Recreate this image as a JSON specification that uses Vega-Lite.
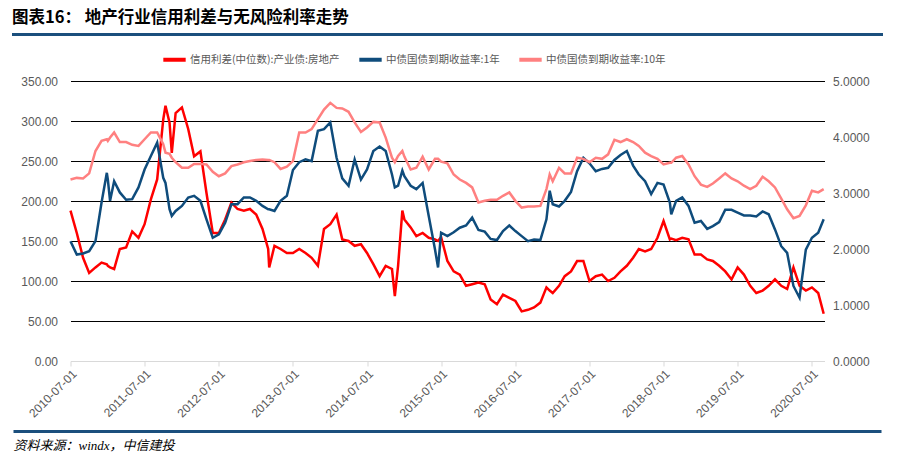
{
  "$schema": "https://vega.github.io/schema/vega-lite/v6.json",
  "background": "white",
  "padding": {"left": 12, "top": 9, "right": 5, "bottom": 2},
  "config": {"view": {"stroke": null}, "font": "Liberation Sans"},
  "spacing": 0,
  "bounds": "flush",
  "center": true,
  "datasets": {
    "main": [
      {"date":"2010-07-01","spread":188,"y1":2.14,"y10":3.24},
      {"date":"2010-08-01","spread":160,"y1":1.90,"y10":3.27},
      {"date":"2010-09-01","spread":129,"y1":1.92,"y10":3.26},
      {"date":"2010-10-01","spread":110,"y1":1.96,"y10":3.35},
      {"date":"2010-11-01","spread":117,"y1":2.14,"y10":3.75},
      {"date":"2010-12-01","spread":123,"y1":2.83,"y10":3.93},
      {"date":"2010-12-27","spread":121,"y1":3.36,"y10":3.96},
      {"date":"2011-01-01","spread":119,"y1":3.24,"y10":3.93},
      {"date":"2011-01-12","spread":117,"y1":2.86,"y10":3.99},
      {"date":"2011-02-01","spread":115,"y1":3.21,"y10":4.08},
      {"date":"2011-03-01","spread":140,"y1":3.01,"y10":3.91},
      {"date":"2011-04-01","spread":142,"y1":2.88,"y10":3.91},
      {"date":"2011-05-01","spread":162,"y1":2.89,"y10":3.86},
      {"date":"2011-06-01","spread":154,"y1":3.10,"y10":3.84},
      {"date":"2011-07-01","spread":171,"y1":3.42,"y10":3.96},
      {"date":"2011-08-01","spread":202,"y1":3.66,"y10":4.08},
      {"date":"2011-09-01","spread":227,"y1":3.90,"y10":4.08},
      {"date":"2011-10-01","spread":302,"y1":3.27,"y10":3.87},
      {"date":"2011-10-12","spread":319,"y1":3.18,"y10":3.72},
      {"date":"2011-11-01","spread":298,"y1":2.71,"y10":3.70},
      {"date":"2011-11-12","spread":260,"y1":2.59,"y10":3.63},
      {"date":"2011-12-01","spread":310,"y1":2.68,"y10":3.55},
      {"date":"2012-01-01","spread":317,"y1":2.77,"y10":3.45},
      {"date":"2012-02-01","spread":290,"y1":2.92,"y10":3.45},
      {"date":"2012-03-01","spread":256,"y1":2.95,"y10":3.52},
      {"date":"2012-04-01","spread":262,"y1":2.86,"y10":3.52},
      {"date":"2012-05-01","spread":210,"y1":2.53,"y10":3.51},
      {"date":"2012-06-01","spread":160,"y1":2.20,"y10":3.38},
      {"date":"2012-07-01","spread":160,"y1":2.26,"y10":3.30},
      {"date":"2012-08-01","spread":177,"y1":2.47,"y10":3.35},
      {"date":"2012-09-01","spread":198,"y1":2.80,"y10":3.48},
      {"date":"2012-10-01","spread":190,"y1":2.80,"y10":3.51},
      {"date":"2012-11-01","spread":188,"y1":2.92,"y10":3.55},
      {"date":"2012-12-01","spread":190,"y1":2.92,"y10":3.57},
      {"date":"2013-01-01","spread":183,"y1":2.86,"y10":3.59},
      {"date":"2013-02-01","spread":165,"y1":2.77,"y10":3.60},
      {"date":"2013-03-01","spread":140,"y1":2.71,"y10":3.59},
      {"date":"2013-03-06","spread":117,"y1":2.71,"y10":3.59},
      {"date":"2013-04-01","spread":144,"y1":2.68,"y10":3.55},
      {"date":"2013-05-01","spread":140,"y1":2.86,"y10":3.43},
      {"date":"2013-06-01","spread":135,"y1":2.95,"y10":3.47},
      {"date":"2013-07-01","spread":135,"y1":3.41,"y10":3.57},
      {"date":"2013-08-01","spread":140,"y1":3.55,"y10":4.08},
      {"date":"2013-09-01","spread":135,"y1":3.60,"y10":4.08},
      {"date":"2013-10-01","spread":129,"y1":3.57,"y10":4.14},
      {"date":"2013-11-01","spread":119,"y1":4.11,"y10":4.32},
      {"date":"2013-12-01","spread":165,"y1":4.14,"y10":4.49},
      {"date":"2014-01-01","spread":171,"y1":4.26,"y10":4.61},
      {"date":"2014-02-01","spread":183,"y1":3.63,"y10":4.52},
      {"date":"2014-03-01","spread":152,"y1":3.26,"y10":4.51},
      {"date":"2014-04-01","spread":150,"y1":3.13,"y10":4.45},
      {"date":"2014-05-01","spread":144,"y1":3.60,"y10":4.26},
      {"date":"2014-06-01","spread":146,"y1":3.24,"y10":4.09},
      {"date":"2014-07-01","spread":135,"y1":3.42,"y10":4.17},
      {"date":"2014-08-01","spread":121,"y1":3.75,"y10":4.27},
      {"date":"2014-09-01","spread":106,"y1":3.83,"y10":4.26},
      {"date":"2014-10-01","spread":119,"y1":3.75,"y10":3.99},
      {"date":"2014-11-01","spread":115,"y1":3.33,"y10":3.63},
      {"date":"2014-11-15","spread":81,"y1":3.10,"y10":3.55},
      {"date":"2014-12-01","spread":119,"y1":3.13,"y10":3.66},
      {"date":"2014-12-22","spread":188,"y1":3.40,"y10":3.75},
      {"date":"2015-01-01","spread":177,"y1":3.30,"y10":3.65},
      {"date":"2015-02-01","spread":167,"y1":3.13,"y10":3.42},
      {"date":"2015-03-01","spread":156,"y1":3.07,"y10":3.45},
      {"date":"2015-04-01","spread":160,"y1":3.18,"y10":3.65},
      {"date":"2015-05-01","spread":154,"y1":2.59,"y10":3.42},
      {"date":"2015-06-01","spread":152,"y1":1.99,"y10":3.61},
      {"date":"2015-06-16","spread":150,"y1":1.67,"y10":3.61},
      {"date":"2015-07-01","spread":155,"y1":2.29,"y10":3.56},
      {"date":"2015-08-01","spread":125,"y1":2.23,"y10":3.53},
      {"date":"2015-09-01","spread":112,"y1":2.30,"y10":3.33},
      {"date":"2015-10-01","spread":108,"y1":2.38,"y10":3.24},
      {"date":"2015-11-01","spread":94,"y1":2.42,"y10":3.18},
      {"date":"2015-12-01","spread":96,"y1":2.56,"y10":3.10},
      {"date":"2016-01-01","spread":98,"y1":2.34,"y10":2.83},
      {"date":"2016-02-01","spread":96,"y1":2.31,"y10":2.86},
      {"date":"2016-03-01","spread":77,"y1":2.18,"y10":2.88},
      {"date":"2016-04-01","spread":71,"y1":2.16,"y10":2.88},
      {"date":"2016-05-01","spread":83,"y1":2.32,"y10":2.95},
      {"date":"2016-06-01","spread":79,"y1":2.42,"y10":3.01},
      {"date":"2016-07-01","spread":75,"y1":2.32,"y10":2.86},
      {"date":"2016-08-01","spread":62,"y1":2.23,"y10":2.74},
      {"date":"2016-09-01","spread":64,"y1":2.14,"y10":2.76},
      {"date":"2016-10-01","spread":67,"y1":2.17,"y10":2.76},
      {"date":"2016-11-01","spread":73,"y1":2.16,"y10":2.77},
      {"date":"2016-12-01","spread":92,"y1":2.53,"y10":3.07},
      {"date":"2016-12-17","spread":88,"y1":3.04,"y10":3.33},
      {"date":"2017-01-01","spread":85,"y1":2.80,"y10":3.21},
      {"date":"2017-02-01","spread":94,"y1":2.76,"y10":3.45},
      {"date":"2017-03-01","spread":106,"y1":2.86,"y10":3.35},
      {"date":"2017-04-01","spread":112,"y1":3.02,"y10":3.35},
      {"date":"2017-05-01","spread":125,"y1":3.39,"y10":3.63},
      {"date":"2017-06-01","spread":125,"y1":3.63,"y10":3.61},
      {"date":"2017-07-01","spread":100,"y1":3.53,"y10":3.55},
      {"date":"2017-08-01","spread":106,"y1":3.39,"y10":3.63},
      {"date":"2017-09-01","spread":108,"y1":3.43,"y10":3.61},
      {"date":"2017-10-01","spread":100,"y1":3.45,"y10":3.69},
      {"date":"2017-11-01","spread":104,"y1":3.59,"y10":3.95},
      {"date":"2017-12-01","spread":112,"y1":3.68,"y10":3.91},
      {"date":"2018-01-01","spread":119,"y1":3.75,"y10":3.96},
      {"date":"2018-02-01","spread":129,"y1":3.49,"y10":3.91},
      {"date":"2018-03-01","spread":140,"y1":3.33,"y10":3.84},
      {"date":"2018-04-01","spread":137,"y1":3.21,"y10":3.72},
      {"date":"2018-05-01","spread":140,"y1":2.98,"y10":3.66},
      {"date":"2018-06-01","spread":154,"y1":3.18,"y10":3.61},
      {"date":"2018-07-01","spread":175,"y1":3.15,"y10":3.51},
      {"date":"2018-08-01","spread":152,"y1":2.83,"y10":3.54},
      {"date":"2018-08-08","spread":153,"y1":2.62,"y10":3.54},
      {"date":"2018-09-01","spread":151,"y1":2.86,"y10":3.63},
      {"date":"2018-10-01","spread":154,"y1":2.92,"y10":3.66},
      {"date":"2018-11-01","spread":152,"y1":2.77,"y10":3.51},
      {"date":"2018-12-01","spread":133,"y1":2.47,"y10":3.30},
      {"date":"2019-01-01","spread":133,"y1":2.50,"y10":3.15},
      {"date":"2019-02-01","spread":127,"y1":2.36,"y10":3.11},
      {"date":"2019-03-01","spread":125,"y1":2.41,"y10":3.17},
      {"date":"2019-04-01","spread":119,"y1":2.48,"y10":3.26},
      {"date":"2019-05-01","spread":112,"y1":2.70,"y10":3.35},
      {"date":"2019-06-01","spread":102,"y1":2.70,"y10":3.26},
      {"date":"2019-07-01","spread":117,"y1":2.65,"y10":3.21},
      {"date":"2019-08-01","spread":108,"y1":2.60,"y10":3.13},
      {"date":"2019-09-01","spread":94,"y1":2.60,"y10":3.07},
      {"date":"2019-10-01","spread":85,"y1":2.58,"y10":3.13},
      {"date":"2019-11-01","spread":88,"y1":2.67,"y10":3.29},
      {"date":"2019-12-01","spread":94,"y1":2.62,"y10":3.21},
      {"date":"2020-01-01","spread":102,"y1":2.35,"y10":3.10},
      {"date":"2020-02-01","spread":94,"y1":2.05,"y10":2.90},
      {"date":"2020-03-01","spread":90,"y1":1.93,"y10":2.71},
      {"date":"2020-04-01","spread":117,"y1":1.34,"y10":2.55},
      {"date":"2020-05-01","spread":94,"y1":1.13,"y10":2.59},
      {"date":"2020-06-01","spread":88,"y1":1.99,"y10":2.78},
      {"date":"2020-07-01","spread":92,"y1":2.20,"y10":3.04},
      {"date":"2020-08-01","spread":85,"y1":2.29,"y10":3.01},
      {"date":"2020-08-28","spread":59,"y1":2.53,"y10":3.07}
    ]
  },
  "vconcat": [
    {
      "width": 871, "height": 3,
      "view": {"fill": "#1b4f7d", "stroke": null},
      "data": {"values": []},
      "mark": "point",
      "title": {"text": "图表16：  地产行业信用利差与无风险利率走势", "anchor": "start", "orient": "top", "font": "Noto Sans CJK SC", "fontSize": 16.5, "fontWeight": "bold", "color": "#000000", "offset": 7}
    },
    {"width": 871, "height": 45, "data": {"values": []}, "mark": "point"},
    {
      "width": 754, "height": 280,
      "data": {"name": "main"},
      "encoding": {
        "x": {
          "field": "date", "type": "temporal",
          "scale": {"type": "utc", "domain": [{"year": 2010, "month": 7, "date": 1, "utc": true}, {"year": 2020, "month": 9, "date": 1, "utc": true}]},
          "axis": {
            "title": null,
            "values": [
              {"year": 2010, "month": 7, "date": 1, "utc": true},
              {"year": 2011, "month": 7, "date": 1, "utc": true},
              {"year": 2012, "month": 7, "date": 1, "utc": true},
              {"year": 2013, "month": 7, "date": 1, "utc": true},
              {"year": 2014, "month": 7, "date": 1, "utc": true},
              {"year": 2015, "month": 7, "date": 1, "utc": true},
              {"year": 2016, "month": 7, "date": 1, "utc": true},
              {"year": 2017, "month": 7, "date": 1, "utc": true},
              {"year": 2018, "month": 7, "date": 1, "utc": true},
              {"year": 2019, "month": 7, "date": 1, "utc": true},
              {"year": 2020, "month": 7, "date": 1, "utc": true}
            ],
            "labelExpr": "utcFormat(datum.value, '%Y-%m-%d')",
            "labelAngle": -45, "labelOverlap": false,
            "grid": false,
            "domainColor": "#d9d9d9", "tickColor": "#d9d9d9", "tickSize": 5,
            "labelColor": "#595959", "labelFontSize": 12, "labelFont": "Liberation Sans", "labelPadding": 2
          }
        }
      },
      "layer": [
        {
          "mark": {"type": "line", "strokeWidth": 2.5},
          "encoding": {
            "y": {
              "field": "spread", "type": "quantitative",
              "scale": {"domain": [0, 350]},
              "axis": {
                "orient": "left", "title": null,
                "values": [0, 50, 100, 150, 200, 250, 300, 350],
                "format": ".2f",
                "grid": true,
                "gridColor": {"condition": {"test": "datum.value === 0", "value": "transparent"}, "value": "#000000"},
                "gridWidth": 1,
                "domain": false, "ticks": false,
                "labelPadding": 13, "labelColor": "#595959", "labelFontSize": 12, "labelFont": "Liberation Sans"
              }
            },
            "color": {
              "datum": "信用利差(中位数):产业债:房地产",
              "scale": {
                "domain": ["信用利差(中位数):产业债:房地产", "中债国债到期收益率:1年", "中债国债到期收益率:10年"],
                "range": ["#ff0000", "#0f4c7c", "#ff8080"]
              },
              "legend": {
                "orient": "none", "legendX": 149, "legendY": 13,
                "direction": "horizontal", "title": null,
                "symbolType": "stroke", "symbolStrokeWidth": 4, "symbolSize": 500,
                "labelFont": "Noto Sans CJK SC", "labelFontSize": 10.5, "labelColor": "#595959",
                "columnPadding": 11, "labelOffset": 2
              }
            }
          }
        },
        {
          "layer": [
            {
              "mark": {"type": "line", "strokeWidth": 2.5},
              "encoding": {
                "y": {
                  "field": "y1", "type": "quantitative",
                  "scale": {"domain": [0, 5]},
                  "axis": {
                    "orient": "right", "title": null,
                    "values": [0, 0.5, 1, 1.5, 2, 2.5, 3, 3.5, 4, 4.5, 5],
                    "format": ".4f", "grid": false, "domain": false, "ticks": false,
                    "labelPadding": 8, "labelColor": "#595959", "labelFontSize": 12, "labelFont": "Liberation Sans"
                  }
                },
                "color": {"datum": "中债国债到期收益率:1年"}
              }
            },
            {
              "mark": {"type": "line", "strokeWidth": 2.5},
              "encoding": {
                "y": {"field": "y10", "type": "quantitative"},
                "color": {"datum": "中债国债到期收益率:10年"}
              }
            }
          ]
        }
      ],
      "resolve": {"scale": {"y": "independent"}}
    },
    {"width": 871, "height": 69, "data": {"values": []}, "mark": "point"},
    {
      "width": 868, "height": 3,
      "view": {"fill": "#1b4f7d", "stroke": null},
      "data": {"values": []},
      "mark": "point",
      "title": {"text": "资料来源：windx，中信建投", "anchor": "start", "orient": "bottom", "font": "Liberation Serif, Noto Sans CJK SC", "fontStyle": "italic", "fontSize": 13, "fontWeight": "normal", "color": "#000000", "offset": 7}
    }
  ]
}
